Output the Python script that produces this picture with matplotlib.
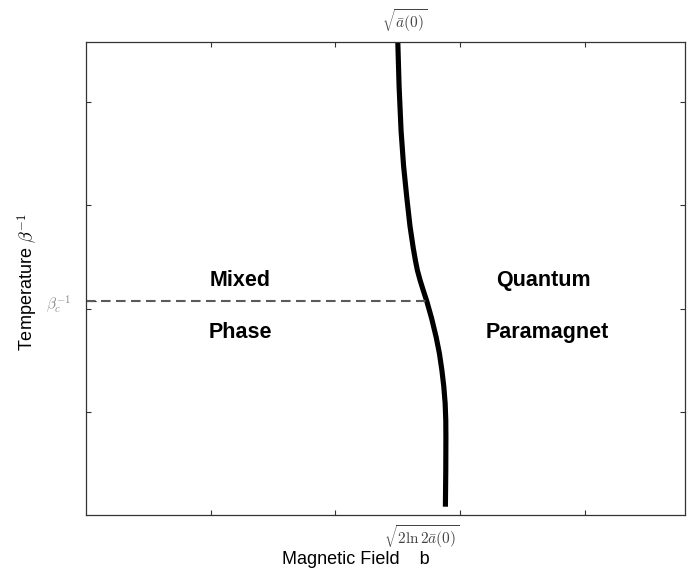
"""
Phase diagram: mixed phase vs quantum paramagnet
"""
import numpy as np
import matplotlib
matplotlib.use("Agg")
import matplotlib.pyplot as plt

plt.rcParams["font.family"] = ["Liberation Sans", "DejaVu Sans"]
plt.rcParams["mathtext.fontset"] = "cm"

# phase boundary (x in tick units, y in tick units)
boundary_b = [2.500, 2.510, 2.526, 2.546, 2.572, 2.597, 2.623, 2.641, 2.657, 2.679, 2.704,
              2.732, 2.771, 2.807, 2.833, 2.853, 2.868, 2.879, 2.884, 2.885, 2.884, 2.881]
boundary_t = [4.569, 4.151, 3.717, 3.380, 3.071, 2.801, 2.589, 2.464, 2.368, 2.271, 2.175,
              2.071, 1.904, 1.724, 1.567, 1.403, 1.249, 1.085, 0.921, 0.757, 0.439, 0.085]

beta_c_inv = 2.071
b_top = 2.50
b_bottom = 2.69
x_ticks = [1, 2, 3, 4]
y_ticks = [1, 2, 3, 4]

fig = plt.figure(figsize=(6.88, 5.71), dpi=100)
ax = fig.add_axes([0.1246, 0.0972, 0.8710, 0.8298])

ax.plot(boundary_b, boundary_t, color="black", lw=3.7, solid_capstyle="butt")
ax.plot([0, boundary_b[11]], [beta_c_inv, beta_c_inv], color="#5a5a5a", lw=1.5,
        linestyle=(0, (4.6, 2.6)))

ax.set_xlim(0, 4.8)
ax.set_ylim(0, 4.58)
ax.set_xticks(x_ticks)
ax.set_yticks(y_ticks)
ax.set_xticklabels([])
ax.set_yticklabels([])
ax.tick_params(direction="in", length=3.5, width=0.8, color="#333333",
               top=True, right=True)
ax.set_yticks([beta_c_inv], minor=True)
ax.set_yticklabels([r"$\beta_c^{-1}$"], minor=True)
ax.tick_params(axis="y", which="minor", direction="in", length=7, width=0.8,
               labelsize=11, labelcolor="#8a8a8a", pad=10)
for sp in ax.spines.values():
    sp.set_linewidth(0.9)
    sp.set_color("#333333")

# region names
ax.text(1.24, 2.27, "Mixed", ha="center", va="center", fontsize=15.5, fontweight="bold")
ax.text(1.24, 1.77, "Phase", ha="center", va="center", fontsize=15.5, fontweight="bold")
ax.text(3.67, 2.27, "Quantum", ha="center", va="center", fontsize=15.5, fontweight="bold")
ax.text(3.70, 1.77, "Paramagnet", ha="center", va="center", fontsize=15.5, fontweight="bold")

# special values of the field
ax.annotate(r"$\sqrt{\bar{a}(0)}$", xy=(b_top + 0.05, 1.0), xycoords=("data", "axes fraction"),
            xytext=(0, 15), textcoords="offset points", ha="center", va="center",
            fontsize=11, color="#444444")
ax.annotate(r"$\sqrt{2\ln 2\bar{a}(0)}$", xy=(b_bottom, 0.0), xycoords=("data", "axes fraction"),
            xytext=(0, -15), textcoords="offset points", ha="center", va="center",
            fontsize=11, color="#444444")

fig.text(356 / 688, 1 - 559 / 571, "Magnetic Field    b", ha="center", va="center",
         fontsize=13)
fig.text(28 / 688, 1 - 282 / 571, r"Temperature $\beta^{-1}$", ha="center", va="center",
         rotation=90, fontsize=13)

fig.savefig("out.png", dpi=100)
